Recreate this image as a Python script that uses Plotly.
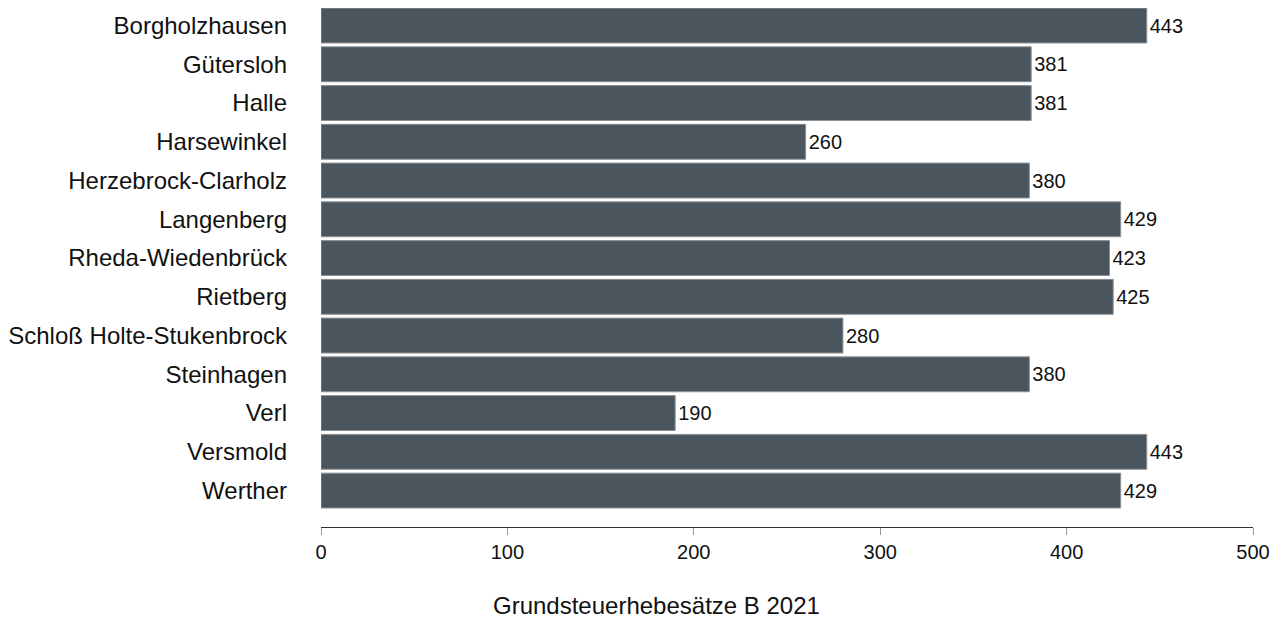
import plotly.graph_objects as go

gemeinden = ['Borgholzhausen', 'Gütersloh', 'Halle', 'Harsewinkel', 'Herzebrock-Clarholz',
             'Langenberg', 'Rheda-Wiedenbrück', 'Rietberg', 'Schloß Holte-Stukenbrock',
             'Steinhagen', 'Verl', 'Versmold', 'Werther']
hebesatz = [443, 381, 381, 260, 380, 429, 423, 425, 280, 380, 190, 443, 429]
x_ticks = [0, 100, 200, 300, 400, 500]

# page has an 8px body margin, so the figure is a bit smaller than the window
W, H = 1271, 610
L, R, T, B = 313, 26, 0, 91

fig = go.Figure(go.Bar(
    x=hebesatz,
    y=gemeinden,
    orientation='h',
    marker=dict(color='#4a555e', line=dict(color='#8a9096', width=1)),
    text=hebesatz,
    textposition='outside',
    textfont=dict(size=20, color='#111111'),
    cliponaxis=False,
))

plot_w = W - L - R
plot_h = H - T - B
fig.update_layout(
    width=W, height=H,
    margin=dict(l=L, r=R, t=T, b=B),
    plot_bgcolor='white', paper_bgcolor='white',
    font=dict(family='Arial, Liberation Sans', size=20, color='#111111'),
    bargap=0.1,
    showlegend=False,
    annotations=[dict(
        text='Grundsteuerhebesätze B 2021',
        x=(648 - L) / plot_w, y=-(597 - (H - B)) / plot_h,
        xref='paper', yref='paper',
        showarrow=False, font=dict(size=24), xanchor='center', yanchor='middle',
    )],
)

fig.update_xaxes(
    range=[0, 500], tickvals=x_ticks, showgrid=False, zeroline=False,
    showline=True, linecolor='#333333', linewidth=1,
    ticks='outside', ticklen=7, tickcolor='#999999', tickwidth=1,
    tickfont=dict(size=20),
)
fig.update_yaxes(
    categoryorder='array', categoryarray=gemeinden,
    range=[12.94, -0.452], showgrid=False, zeroline=False, showline=False,
    ticks='', ticklabelstandoff=33, tickfont=dict(size=24),
)

fig.write_html('out.html')
